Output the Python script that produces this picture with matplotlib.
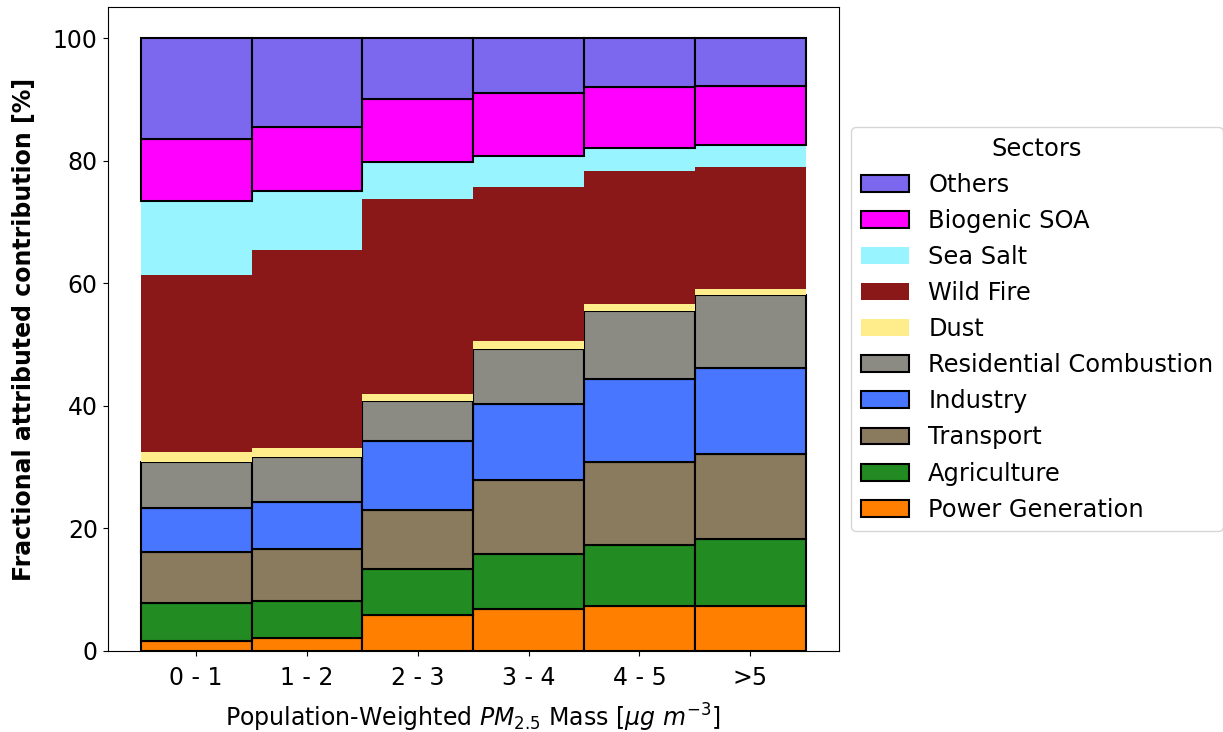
import numpy as np
import matplotlib
matplotlib.use("Agg")
import matplotlib.pyplot as plt

# PM2.5 mass bins (population weighted)
bins = ["0 - 1", "1 - 2", "2 - 3", "3 - 4", "4 - 5", ">5"]

# fractional contribution per sector [%], bottom of stack first
power_generation = [1.6, 2.1, 5.9, 6.9, 7.4, 7.3]
agriculture = [6.3, 6.1, 7.5, 8.9, 9.9, 10.9]
transport = [8.2, 8.4, 9.6, 12.1, 13.6, 14.0]
industry = [7.3, 7.7, 11.2, 12.4, 13.5, 13.9]
residential = [7.4, 7.4, 6.6, 8.9, 11.1, 12.0]
dust = [1.6, 1.4, 1.1, 1.3, 1.1, 0.9]
wild_fire = [28.9, 32.4, 31.9, 25.2, 21.7, 20.0]
sea_salt = [12.2, 9.5, 6.0, 5.0, 3.8, 3.5]
biogenic_soa = [10.0, 10.5, 10.2, 10.3, 9.9, 9.7]
others = [16.5, 14.5, 10.0, 9.0, 8.0, 7.8]

# (label, values, colour, outlined)
sectors = [
    ("Power Generation", power_generation, "#FF7F00", True),
    ("Agriculture", agriculture, "#228B22", True),
    ("Transport", transport, "#8A7A5E", True),
    ("Industry", industry, "#4876FF", True),
    ("Residential Combustion", residential, "#8B8B83", True),
    ("Dust", dust, "#FFEC8B", False),
    ("Wild Fire", wild_fire, "#8B1818", False),
    ("Sea Salt", sea_salt, "#98F5FF", False),
    ("Biogenic SOA", biogenic_soa, "#FF00FF", True),
    ("Others", others, "#7B68EE", True),
]

plt.rcParams["font.family"] = "DejaVu Sans"
plt.rcParams["font.size"] = 17

fig = plt.figure(figsize=(12.23, 7.32), dpi=100)
ax = fig.add_axes([0.0879, 0.1107, 0.598, 0.8791])

x = np.arange(len(bins))
bottom = np.zeros(len(bins))
handles = []
for label, vals, color, outlined in sectors:
    vals = np.asarray(vals)
    if outlined:
        h = ax.bar(x, vals, width=1.0, bottom=bottom, color=color,
                   edgecolor="black", linewidth=1.5, label=label)
    else:
        h = ax.bar(x, vals, width=1.0, bottom=bottom, color=color,
                   linewidth=0, label=label)
    handles.append(h)
    bottom += vals

ax.set_xticks(x)
ax.set_xticklabels(bins)
ax.set_yticks([0, 20, 40, 60, 80, 100])
ax.tick_params(axis="x", pad=7.5)
ax.set_ylabel("Fractional attributed contribution [%]", fontweight="bold",
              labelpad=12)
ax.set_xlabel(r"Population-Weighted $PM_{2.5}$ Mass [$\mu g\ m^{-3}$]",
              labelpad=8)

ax.legend(handles[::-1], [s[0] for s in sectors][::-1], title="Sectors",
          loc="center left", bbox_to_anchor=(1.0, 0.5), fontsize=17.4,
          title_fontsize=17.4)

fig.savefig("out.png", dpi=100)
